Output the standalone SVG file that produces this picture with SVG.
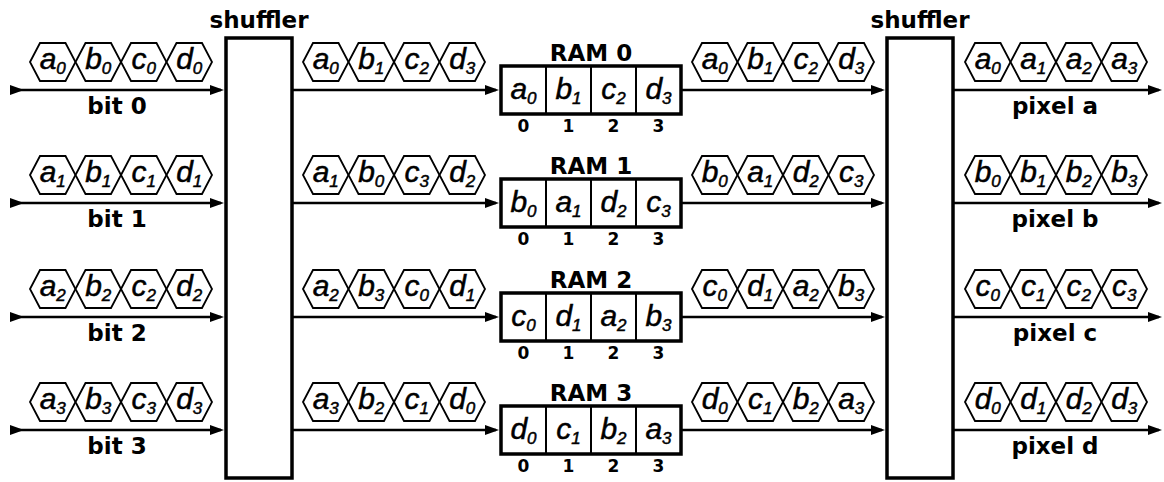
<svg xmlns="http://www.w3.org/2000/svg" xmlns:xlink="http://www.w3.org/1999/xlink" width="1164" height="482" viewBox="0 0 1164 482">
  <style>
    .hx { fill: #fff; stroke: #000; stroke-width: 1.8; stroke-linejoin: miter; }
    .v { font-family: "Liberation Sans", Arial, sans-serif; font-style: italic; font-size: 30px; text-anchor: middle; fill: #000; stroke: #000; stroke-width: 0.5; }
    .s { font-size: 17px; }
    .lb { font-family: "DejaVu Sans", sans-serif; font-weight: bold; font-size: 23px; text-anchor: middle; fill: #000; }
    .ix { font-family: "DejaVu Sans", sans-serif; font-weight: bold; font-size: 17px; text-anchor: middle; fill: #000; }
    .blk { fill: #fff; stroke: #000; stroke-width: 3.5; }
    .div { stroke: #000; stroke-width: 2; }
    .wire { stroke: #000; stroke-width: 2.5; fill: none; }
  </style>
  <defs>
    <!-- one hexagonal data token, origin at its left tip -->
    <path id="hx" d="M0,0 L10,-19 L35.5,-19 L45.5,0 L35.5,19 L10,19 Z"/>
    <marker id="ah" markerUnits="userSpaceOnUse" markerWidth="15" markerHeight="11" refX="11" refY="5" orient="auto">
      <path d="M0,0 L14,5 L0,10 Z" fill="#000"/>
    </marker>
    <marker id="at" markerUnits="userSpaceOnUse" markerWidth="15" markerHeight="11" refX="0" refY="5" orient="auto">
      <path d="M0,0 L14,5 L0,10 Z" fill="#000"/>
    </marker>
  </defs>
  <rect width="1164" height="482" fill="#fff"/>

  <!-- connectors -->
  <g id="connectors" class="wire">
    <path d="M10,90 H221" marker-start="url(#at)" marker-end="url(#ah)"/>
    <path d="M10,203 H221" marker-start="url(#at)" marker-end="url(#ah)"/>
    <path d="M10,317 H221" marker-start="url(#at)" marker-end="url(#ah)"/>
    <path d="M10,430 H221" marker-start="url(#at)" marker-end="url(#ah)"/>
    <path d="M292,90 H496" marker-end="url(#ah)"/>
    <path d="M292,203 H496" marker-end="url(#ah)"/>
    <path d="M292,317 H496" marker-end="url(#ah)"/>
    <path d="M292,430 H496" marker-end="url(#ah)"/>
    <path d="M681,90 H882" marker-end="url(#ah)"/>
    <path d="M681,203 H882" marker-end="url(#ah)"/>
    <path d="M681,317 H882" marker-end="url(#ah)"/>
    <path d="M681,430 H882" marker-end="url(#ah)"/>
    <path d="M953,90 H1159" marker-end="url(#ah)"/>
    <path d="M953,203 H1159" marker-end="url(#ah)"/>
    <path d="M953,317 H1159" marker-end="url(#ah)"/>
    <path d="M953,430 H1159" marker-end="url(#ah)"/>
  </g>

  <!-- shufflers -->
  <g id="shuffler-in">
    <rect class="blk" x="226" y="38" width="66" height="440"/>
    <text class="lb" x="259" y="28">shuffler</text>
  </g>
  <g id="shuffler-out">
    <rect class="blk" x="887" y="38" width="66" height="440"/>
    <text class="lb" x="920" y="28">shuffler</text>
  </g>

  <!-- input streams -->
  <g id="bit0">
    <g transform="translate(30,62)">
      <use href="#hx" class="hx"/><use href="#hx" class="hx" x="45.5"/><use href="#hx" class="hx" x="91"/><use href="#hx" class="hx" x="136.5"/>
      <text class="v" x="22.75" y="7">a<tspan class="s" dy="5">0</tspan></text>
      <text class="v" x="68.25" y="7">b<tspan class="s" dy="5">0</tspan></text>
      <text class="v" x="113.75" y="7">c<tspan class="s" dy="5">0</tspan></text>
      <text class="v" x="159.25" y="7">d<tspan class="s" dy="5">0</tspan></text>
    </g>
    <text class="lb" x="117" y="114">bit 0</text>
  </g>
  <g id="bit1">
    <g transform="translate(30,175)">
      <use href="#hx" class="hx"/><use href="#hx" class="hx" x="45.5"/><use href="#hx" class="hx" x="91"/><use href="#hx" class="hx" x="136.5"/>
      <text class="v" x="22.75" y="7">a<tspan class="s" dy="5">1</tspan></text>
      <text class="v" x="68.25" y="7">b<tspan class="s" dy="5">1</tspan></text>
      <text class="v" x="113.75" y="7">c<tspan class="s" dy="5">1</tspan></text>
      <text class="v" x="159.25" y="7">d<tspan class="s" dy="5">1</tspan></text>
    </g>
    <text class="lb" x="117" y="227">bit 1</text>
  </g>
  <g id="bit2">
    <g transform="translate(30,289)">
      <use href="#hx" class="hx"/><use href="#hx" class="hx" x="45.5"/><use href="#hx" class="hx" x="91"/><use href="#hx" class="hx" x="136.5"/>
      <text class="v" x="22.75" y="7">a<tspan class="s" dy="5">2</tspan></text>
      <text class="v" x="68.25" y="7">b<tspan class="s" dy="5">2</tspan></text>
      <text class="v" x="113.75" y="7">c<tspan class="s" dy="5">2</tspan></text>
      <text class="v" x="159.25" y="7">d<tspan class="s" dy="5">2</tspan></text>
    </g>
    <text class="lb" x="117" y="341">bit 2</text>
  </g>
  <g id="bit3">
    <g transform="translate(30,402)">
      <use href="#hx" class="hx"/><use href="#hx" class="hx" x="45.5"/><use href="#hx" class="hx" x="91"/><use href="#hx" class="hx" x="136.5"/>
      <text class="v" x="22.75" y="7">a<tspan class="s" dy="5">3</tspan></text>
      <text class="v" x="68.25" y="7">b<tspan class="s" dy="5">3</tspan></text>
      <text class="v" x="113.75" y="7">c<tspan class="s" dy="5">3</tspan></text>
      <text class="v" x="159.25" y="7">d<tspan class="s" dy="5">3</tspan></text>
    </g>
    <text class="lb" x="117" y="454">bit 3</text>
  </g>

  <!-- shuffled streams into the RAMs -->
  <g id="wr0" transform="translate(303,62)">
    <use href="#hx" class="hx"/><use href="#hx" class="hx" x="45.5"/><use href="#hx" class="hx" x="91"/><use href="#hx" class="hx" x="136.5"/>
    <text class="v" x="22.75" y="7">a<tspan class="s" dy="5">0</tspan></text>
    <text class="v" x="68.25" y="7">b<tspan class="s" dy="5">1</tspan></text>
    <text class="v" x="113.75" y="7">c<tspan class="s" dy="5">2</tspan></text>
    <text class="v" x="159.25" y="7">d<tspan class="s" dy="5">3</tspan></text>
  </g>
  <g id="wr1" transform="translate(303,175)">
    <use href="#hx" class="hx"/><use href="#hx" class="hx" x="45.5"/><use href="#hx" class="hx" x="91"/><use href="#hx" class="hx" x="136.5"/>
    <text class="v" x="22.75" y="7">a<tspan class="s" dy="5">1</tspan></text>
    <text class="v" x="68.25" y="7">b<tspan class="s" dy="5">0</tspan></text>
    <text class="v" x="113.75" y="7">c<tspan class="s" dy="5">3</tspan></text>
    <text class="v" x="159.25" y="7">d<tspan class="s" dy="5">2</tspan></text>
  </g>
  <g id="wr2" transform="translate(303,289)">
    <use href="#hx" class="hx"/><use href="#hx" class="hx" x="45.5"/><use href="#hx" class="hx" x="91"/><use href="#hx" class="hx" x="136.5"/>
    <text class="v" x="22.75" y="7">a<tspan class="s" dy="5">2</tspan></text>
    <text class="v" x="68.25" y="7">b<tspan class="s" dy="5">3</tspan></text>
    <text class="v" x="113.75" y="7">c<tspan class="s" dy="5">0</tspan></text>
    <text class="v" x="159.25" y="7">d<tspan class="s" dy="5">1</tspan></text>
  </g>
  <g id="wr3" transform="translate(303,402)">
    <use href="#hx" class="hx"/><use href="#hx" class="hx" x="45.5"/><use href="#hx" class="hx" x="91"/><use href="#hx" class="hx" x="136.5"/>
    <text class="v" x="22.75" y="7">a<tspan class="s" dy="5">3</tspan></text>
    <text class="v" x="68.25" y="7">b<tspan class="s" dy="5">2</tspan></text>
    <text class="v" x="113.75" y="7">c<tspan class="s" dy="5">1</tspan></text>
    <text class="v" x="159.25" y="7">d<tspan class="s" dy="5">0</tspan></text>
  </g>

  <!-- RAM banks -->
  <g id="ram0">
    <text class="lb" x="591" y="61">RAM 0</text>
    <rect class="blk" x="501" y="66" width="180" height="48"/>
    <path class="div" d="M546,66 V114 M591,66 V114 M636,66 V114"/>
    <text class="v" x="523.5" y="99">a<tspan class="s" dy="5">0</tspan></text>
    <text class="v" x="568.5" y="99">b<tspan class="s" dy="5">1</tspan></text>
    <text class="v" x="613.5" y="99">c<tspan class="s" dy="5">2</tspan></text>
    <text class="v" x="658.5" y="99">d<tspan class="s" dy="5">3</tspan></text>
    <text class="ix" x="523.5" y="132">0</text><text class="ix" x="568.5" y="132">1</text><text class="ix" x="613.5" y="132">2</text><text class="ix" x="658.5" y="132">3</text>
  </g>
  <g id="ram1">
    <text class="lb" x="591" y="174">RAM 1</text>
    <rect class="blk" x="501" y="179" width="180" height="48"/>
    <path class="div" d="M546,179 V227 M591,179 V227 M636,179 V227"/>
    <text class="v" x="523.5" y="212">b<tspan class="s" dy="5">0</tspan></text>
    <text class="v" x="568.5" y="212">a<tspan class="s" dy="5">1</tspan></text>
    <text class="v" x="613.5" y="212">d<tspan class="s" dy="5">2</tspan></text>
    <text class="v" x="658.5" y="212">c<tspan class="s" dy="5">3</tspan></text>
    <text class="ix" x="523.5" y="245">0</text><text class="ix" x="568.5" y="245">1</text><text class="ix" x="613.5" y="245">2</text><text class="ix" x="658.5" y="245">3</text>
  </g>
  <g id="ram2">
    <text class="lb" x="591" y="288">RAM 2</text>
    <rect class="blk" x="501" y="293" width="180" height="48"/>
    <path class="div" d="M546,293 V341 M591,293 V341 M636,293 V341"/>
    <text class="v" x="523.5" y="326">c<tspan class="s" dy="5">0</tspan></text>
    <text class="v" x="568.5" y="326">d<tspan class="s" dy="5">1</tspan></text>
    <text class="v" x="613.5" y="326">a<tspan class="s" dy="5">2</tspan></text>
    <text class="v" x="658.5" y="326">b<tspan class="s" dy="5">3</tspan></text>
    <text class="ix" x="523.5" y="359">0</text><text class="ix" x="568.5" y="359">1</text><text class="ix" x="613.5" y="359">2</text><text class="ix" x="658.5" y="359">3</text>
  </g>
  <g id="ram3">
    <text class="lb" x="591" y="401">RAM 3</text>
    <rect class="blk" x="501" y="406" width="180" height="48"/>
    <path class="div" d="M546,406 V454 M591,406 V454 M636,406 V454"/>
    <text class="v" x="523.5" y="439">d<tspan class="s" dy="5">0</tspan></text>
    <text class="v" x="568.5" y="439">c<tspan class="s" dy="5">1</tspan></text>
    <text class="v" x="613.5" y="439">b<tspan class="s" dy="5">2</tspan></text>
    <text class="v" x="658.5" y="439">a<tspan class="s" dy="5">3</tspan></text>
    <text class="ix" x="523.5" y="472">0</text><text class="ix" x="568.5" y="472">1</text><text class="ix" x="613.5" y="472">2</text><text class="ix" x="658.5" y="472">3</text>
  </g>

  <!-- streams read out of the RAMs -->
  <g id="rd0" transform="translate(692,62)">
    <use href="#hx" class="hx"/><use href="#hx" class="hx" x="45.5"/><use href="#hx" class="hx" x="91"/><use href="#hx" class="hx" x="136.5"/>
    <text class="v" x="22.75" y="7">a<tspan class="s" dy="5">0</tspan></text>
    <text class="v" x="68.25" y="7">b<tspan class="s" dy="5">1</tspan></text>
    <text class="v" x="113.75" y="7">c<tspan class="s" dy="5">2</tspan></text>
    <text class="v" x="159.25" y="7">d<tspan class="s" dy="5">3</tspan></text>
  </g>
  <g id="rd1" transform="translate(692,175)">
    <use href="#hx" class="hx"/><use href="#hx" class="hx" x="45.5"/><use href="#hx" class="hx" x="91"/><use href="#hx" class="hx" x="136.5"/>
    <text class="v" x="22.75" y="7">b<tspan class="s" dy="5">0</tspan></text>
    <text class="v" x="68.25" y="7">a<tspan class="s" dy="5">1</tspan></text>
    <text class="v" x="113.75" y="7">d<tspan class="s" dy="5">2</tspan></text>
    <text class="v" x="159.25" y="7">c<tspan class="s" dy="5">3</tspan></text>
  </g>
  <g id="rd2" transform="translate(692,289)">
    <use href="#hx" class="hx"/><use href="#hx" class="hx" x="45.5"/><use href="#hx" class="hx" x="91"/><use href="#hx" class="hx" x="136.5"/>
    <text class="v" x="22.75" y="7">c<tspan class="s" dy="5">0</tspan></text>
    <text class="v" x="68.25" y="7">d<tspan class="s" dy="5">1</tspan></text>
    <text class="v" x="113.75" y="7">a<tspan class="s" dy="5">2</tspan></text>
    <text class="v" x="159.25" y="7">b<tspan class="s" dy="5">3</tspan></text>
  </g>
  <g id="rd3" transform="translate(692,402)">
    <use href="#hx" class="hx"/><use href="#hx" class="hx" x="45.5"/><use href="#hx" class="hx" x="91"/><use href="#hx" class="hx" x="136.5"/>
    <text class="v" x="22.75" y="7">d<tspan class="s" dy="5">0</tspan></text>
    <text class="v" x="68.25" y="7">c<tspan class="s" dy="5">1</tspan></text>
    <text class="v" x="113.75" y="7">b<tspan class="s" dy="5">2</tspan></text>
    <text class="v" x="159.25" y="7">a<tspan class="s" dy="5">3</tspan></text>
  </g>

  <!-- output pixels -->
  <g id="pixel-a">
    <g transform="translate(965,62)">
      <use href="#hx" class="hx"/><use href="#hx" class="hx" x="45.5"/><use href="#hx" class="hx" x="91"/><use href="#hx" class="hx" x="136.5"/>
      <text class="v" x="22.75" y="7">a<tspan class="s" dy="5">0</tspan></text>
      <text class="v" x="68.25" y="7">a<tspan class="s" dy="5">1</tspan></text>
      <text class="v" x="113.75" y="7">a<tspan class="s" dy="5">2</tspan></text>
      <text class="v" x="159.25" y="7">a<tspan class="s" dy="5">3</tspan></text>
    </g>
    <text class="lb" x="1055" y="114">pixel a</text>
  </g>
  <g id="pixel-b">
    <g transform="translate(965,175)">
      <use href="#hx" class="hx"/><use href="#hx" class="hx" x="45.5"/><use href="#hx" class="hx" x="91"/><use href="#hx" class="hx" x="136.5"/>
      <text class="v" x="22.75" y="7">b<tspan class="s" dy="5">0</tspan></text>
      <text class="v" x="68.25" y="7">b<tspan class="s" dy="5">1</tspan></text>
      <text class="v" x="113.75" y="7">b<tspan class="s" dy="5">2</tspan></text>
      <text class="v" x="159.25" y="7">b<tspan class="s" dy="5">3</tspan></text>
    </g>
    <text class="lb" x="1055" y="227">pixel b</text>
  </g>
  <g id="pixel-c">
    <g transform="translate(965,289)">
      <use href="#hx" class="hx"/><use href="#hx" class="hx" x="45.5"/><use href="#hx" class="hx" x="91"/><use href="#hx" class="hx" x="136.5"/>
      <text class="v" x="22.75" y="7">c<tspan class="s" dy="5">0</tspan></text>
      <text class="v" x="68.25" y="7">c<tspan class="s" dy="5">1</tspan></text>
      <text class="v" x="113.75" y="7">c<tspan class="s" dy="5">2</tspan></text>
      <text class="v" x="159.25" y="7">c<tspan class="s" dy="5">3</tspan></text>
    </g>
    <text class="lb" x="1055" y="341">pixel c</text>
  </g>
  <g id="pixel-d">
    <g transform="translate(965,402)">
      <use href="#hx" class="hx"/><use href="#hx" class="hx" x="45.5"/><use href="#hx" class="hx" x="91"/><use href="#hx" class="hx" x="136.5"/>
      <text class="v" x="22.75" y="7">d<tspan class="s" dy="5">0</tspan></text>
      <text class="v" x="68.25" y="7">d<tspan class="s" dy="5">1</tspan></text>
      <text class="v" x="113.75" y="7">d<tspan class="s" dy="5">2</tspan></text>
      <text class="v" x="159.25" y="7">d<tspan class="s" dy="5">3</tspan></text>
    </g>
    <text class="lb" x="1055" y="454">pixel d</text>
  </g>
</svg>
